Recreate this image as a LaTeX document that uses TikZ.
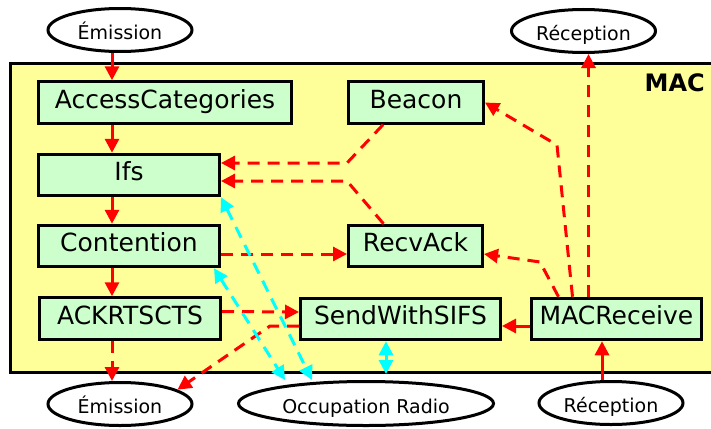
\documentclass[tikz,border=0pt]{standalone}
\usepackage{fontspec}
\setmainfont{DejaVu Sans}
\usetikzlibrary{arrows.meta,shapes.geometric}
\definecolor{macyellow}{RGB}{255,255,153}
\definecolor{boxgreen}{RGB}{204,255,204}
\definecolor{radiocyan}{RGB}{0,255,255}
\definecolor{sigred}{RGB}{255,0,0}
\tikzset{
  blk/.style={draw, line width=3pt, fill=boxgreen, inner sep=0pt, minimum height=41.5pt,
    text height=18pt, text depth=7pt, font=\fontsize{25}{27}\selectfont},
  io/.style={draw, ellipse, line width=3pt, fill=white, inner sep=0pt, minimum width=144pt,
    minimum height=43pt, text height=19pt, text depth=0pt, font=\fontsize{19}{21}\selectfont},
  sig/.style={sigred, line width=3pt, -{Triangle[length=14pt,width=14pt]}},
  sigdash/.style={sig, dash pattern=on 12pt off 8pt},
  busy/.style={radiocyan, line width=3pt, {Triangle[length=14pt,width=14pt]}-{Triangle[length=14pt,width=14pt]},
    dash pattern=on 12pt off 8pt},
}

\begin{document}
\begin{tikzpicture}[x=1pt,y=-1pt]
    \useasboundingbox (0,0) rectangle (711,428);
    % MAC block
    \draw[line width=3pt, fill=macyellow] (10,63) rectangle (725,372);
    \node[font=\bfseries\fontsize{24}{26}\selectfont, inner sep=0pt, anchor=base east] (maclbl) at (705,91) {MAC};
    % outside
    \node[io] (emitA) at (120,30) {Émission};
    \node[io] (recA) at (583.5,31) {Réception};
    \node[io] (emitB) at (120,404) {Émission};
    \node[io, minimum width=255pt, minimum height=44pt] (occ) at (366,403.5) {Occupation Radio};
    \node[io] (recB) at (611,403) {Réception};
    % inside
    \node[blk, minimum width=253pt] (ac) at (165,102.5) {AccessCategories};
    \node[blk, minimum width=181pt] (ifs) at (129,175) {Ifs};
    \node[blk, minimum width=135pt] (beacon) at (416,102.5) {Beacon};
    \node[blk, minimum width=181pt] (cont) at (129,246) {Contention};
    \node[blk, minimum width=134pt] (recvack) at (415.5,246) {RecvAck};
    \node[blk, minimum width=181pt] (ack) at (130,318.5) {ACKRTSCTS};
    \node[blk, minimum width=200pt] (sifs) at (400.5,319) {SendWithSIFS};
    \node[blk, minimum width=170pt] (macrecv) at (616.5,319) {MACReceive};
    % emission chain
    \coordinate (lane) at (112,0);
    \draw[sig] (lane |- emitA.south) -- (lane |- ac.north);
    \draw[sig] (lane |- ac.south) -- (lane |- ifs.north);
    \draw[sig] (lane |- ifs.south) -- (lane |- cont.north);
    \draw[sig] (lane |- cont.south) -- (lane |- ack.north);
    \draw[sigdash] (lane |- ack.south) -- (lane |- emitB.north);
    % into Ifs
    \draw[sigdash] ([xshift=-33pt]beacon.south) -- (347,163) -- ([yshift=12pt]ifs.east);
    \draw[sigdash] ([xshift=-32pt]recvack.north) -- (347,181) -- ([yshift=-6pt]ifs.east);
    \draw[sigdash] ([yshift=-8pt]cont.east) -- ([yshift=-8pt]recvack.west);
    \draw[sigdash] ([yshift=7pt]ack.east) -- ([yshift=7pt]sifs.west);
    \draw[sigdash] ([yshift=-7pt]sifs.west) -- (270,326) -- (emitB.14);
    % reception side
    \draw[sig] ([yshift=-7pt]macrecv.west) -- ([yshift=-7pt]sifs.east);
    \draw[sigdash] ([xshift=-58pt]macrecv.north) -- (540,262) -- ([yshift=-8pt]recvack.east);
    \draw[sigdash] ([xshift=-44pt]macrecv.north) -- (557,145) -- (beacon.east);
    \coordinate (up) at ([xshift=-28pt]macrecv.north);
    \draw[sigdash] (up) -- (up |- recA.south);
    \coordinate (dn) at ([xshift=-9pt]recB.north);
    \draw[sig] (dn) -- (dn |- macrecv.south);
    % radio
    \draw[busy] (ifs.south east) -- ([xshift=-54pt]occ.north);
    \draw[busy] ([xshift=-7pt]cont.south east) -- ([xshift=-81pt]occ.north);
    \coordinate (air) at ([xshift=-14.5pt]sifs.south);
    \draw[busy, solid, shorten >=6pt] (air) -- (air |- occ.north);
\end{tikzpicture}
\end{document}
